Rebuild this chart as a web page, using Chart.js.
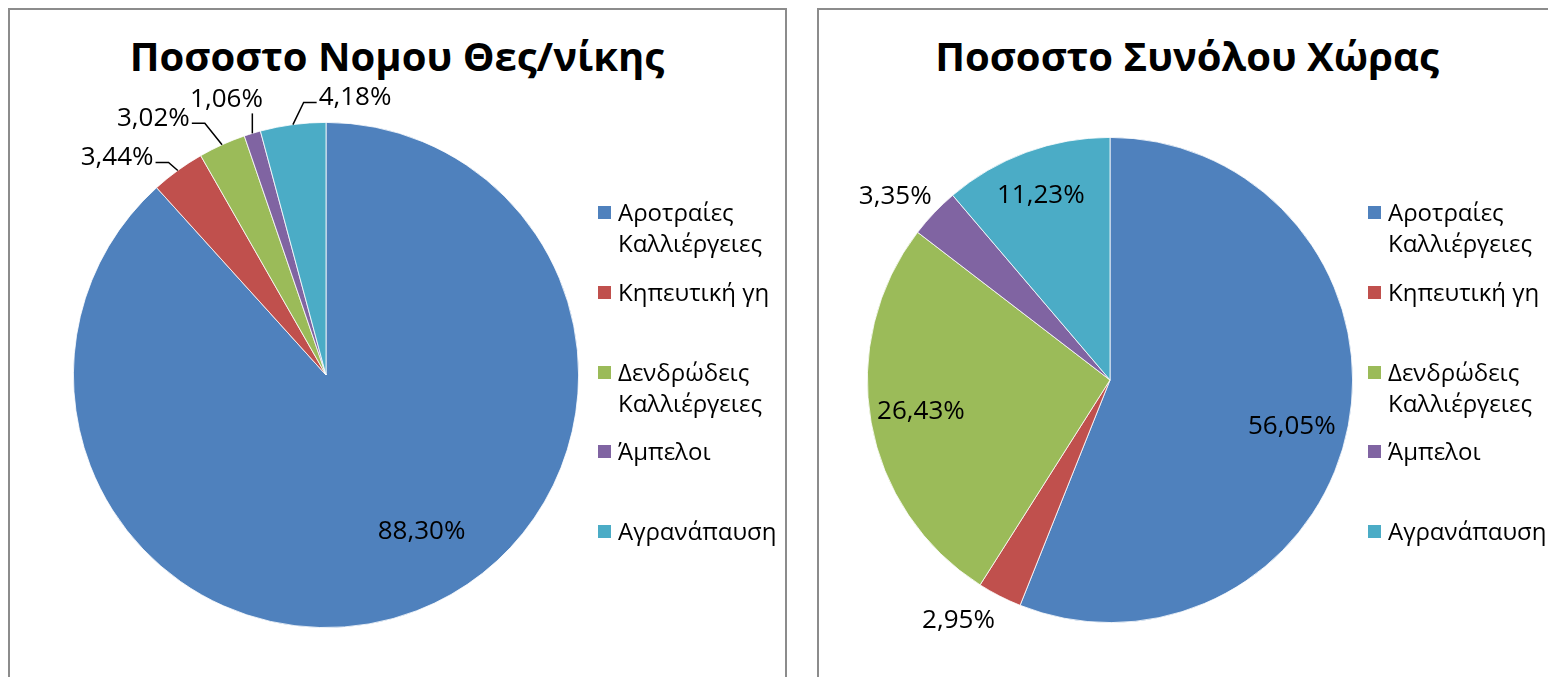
<!DOCTYPE html>
<html>
<head>
<meta charset="utf-8">
<script src="https://cdn.jsdelivr.net/npm/chart.js@4.4.0/dist/chart.umd.min.js"></script>
<style>
  body { margin: 0; background: #fff; width: 1548px; height: 677px; overflow: hidden; position: relative; font-family: "Open Sans", sans-serif; }
  .panel { position: absolute; top: 8px; height: 720px; border: 2px solid #8c8c8c; box-sizing: border-box; }
  .title { position: absolute; font-weight: bold; font-size: 40px; white-space: nowrap; transform: translateX(-50%); line-height: 1; color: #000; }
  canvas { position: absolute; }
  .legend { position: absolute; top: 196px; width: 200px; }
  .item { height: 79.75px; display: flex; align-items: flex-start; font-size: 24px; line-height: 31px; color: #000; }
  .item span.box { width: 13px; height: 13px; margin-top: 10px; margin-right: 7px; flex: none; }
  .item span.txt { width: 168px; }
</style>
</head>
<body>
<div class="panel" style="left:8px; width:779px;"></div>
<div class="panel" style="left:817px; width:760px;"></div>
<div class="title" style="left:397px; top:36px;">Ποσοστο Νομου Θες/νίκης</div>
<div class="title" style="left:1187px; top:36px;">Ποσοστο Συνόλου Χώρας</div>
<canvas id="nomosChart" width="778" height="669" style="left:8px; top:8px;"></canvas>
<canvas id="xoraChart" width="730" height="669" style="left:818px; top:8px;"></canvas>
<div class="legend" id="legendNomos" style="left:598px;"></div>
<div class="legend" id="legendXora" style="left:1368px;"></div>
<script>
const categories = ['Αροτραίες Καλλιέργειες', 'Κηπευτική γη', 'Δενδρώδεις Καλλιέργειες', 'Άμπελοι', 'Αγρανάπαυση'];
const nomosValues = [88.30, 3.44, 3.02, 1.06, 4.18];
const xoraValues = [56.05, 2.95, 26.43, 3.35, 11.23];
const colors = ['#4F81BD', '#C0504D', '#9BBB59', '#8064A2', '#4BACC6'];

// label placement: angle shift from slice middle (deg), distance as fraction of radius
const nomosShift = [-10.3, -7.9, -9.6, -2.9, 13.5];
const nomosDist = [0.727, 1.194, 1.225, 1.16, 1.105];
const xoraShift = [3.6, 5.1, 0.7, -3, -0.4];
const xoraDist = [0.774, 1.173, 0.79, 1.165, 0.81];

const pieLabels = {
    id: 'pieLabels',
    afterDatasetsDraw(chart, args, opts) {
        const ctx = chart.ctx;
        const meta = chart.getDatasetMeta(0);
        const values = chart.data.datasets[0].data;
        ctx.save();
        ctx.font = '26px "Open Sans"';
        ctx.fillStyle = '#000';
        ctx.strokeStyle = '#000';
        ctx.lineWidth = 1.5;
        ctx.textAlign = 'center';
        ctx.textBaseline = 'middle';
        meta.data.forEach((arc, i) => {
            const p = arc.getProps(['x', 'y', 'startAngle', 'endAngle', 'outerRadius'], true);
            const mid = (p.startAngle + p.endAngle) / 2;
            const ang = mid + opts.shift[i] * Math.PI / 180;
            const rr = p.outerRadius * opts.dist[i];
            const cx = p.x + rr * Math.cos(ang);
            const cy = p.y + rr * Math.sin(ang);
            const text = values[i].toFixed(2).replace('.', ',') + '%';
            ctx.fillText(text, cx, cy);
            if (opts.leaders && opts.dist[i] > 1) {
                const ex = p.x + p.outerRadius * Math.cos(mid);
                const ey = p.y + p.outerRadius * Math.sin(mid);
                const w = ctx.measureText(text).width;
                const left = cx - w / 2, right = cx + w / 2;
                ctx.beginPath();
                if (ex >= left && ex <= right) {
                    ctx.moveTo(ex, ey);
                    ctx.lineTo(ex, cy + 14);
                } else if (ex > right) {
                    ctx.moveTo(right + 2, cy + 5);
                    ctx.lineTo(right + 15, cy + 5);
                    ctx.lineTo(ex, ey);
                } else {
                    ctx.moveTo(left - 2, cy + 5);
                    ctx.lineTo(left - 15, cy + 5);
                    ctx.lineTo(ex, ey);
                }
                ctx.stroke();
            }
        });
        ctx.restore();
    }
};

function makePie(id, values, padding, shift, dist, leaders) {
    const ctx = document.getElementById(id).getContext('2d');
    return new Chart(ctx, {
        type: 'pie',
        data: {
            labels: categories,
            datasets: [{
                data: values,
                backgroundColor: colors,
                borderColor: '#ffffff',
                borderWidth: 0.8
            }]
        },
        options: {
            responsive: false,
            animation: false,
            layout: { padding: padding },
            plugins: {
                legend: { display: false },
                tooltip: { enabled: false },
                pieLabels: { shift: shift, dist: dist, leaders: leaders }
            }
        },
        plugins: [pieLabels]
    });
}

function makeLegend(id) {
    const box = document.getElementById(id);
    categories.forEach((name, i) => {
        const item = document.createElement('div');
        item.className = 'item';
        item.innerHTML = '<span class="box" style="background:' + colors[i] + '"></span><span class="txt">' + name + '</span>';
        box.appendChild(item);
    });
}

makePie('nomosChart', nomosValues, { left: 65, top: 114, right: 207, bottom: 49 }, nomosShift, nomosDist, true);
makePie('xoraChart', xoraValues, { left: 49, top: 129, right: 195, bottom: 54 }, xoraShift, xoraDist, false);
makeLegend('legendNomos');
makeLegend('legendXora');
</script>
</body>
</html>
